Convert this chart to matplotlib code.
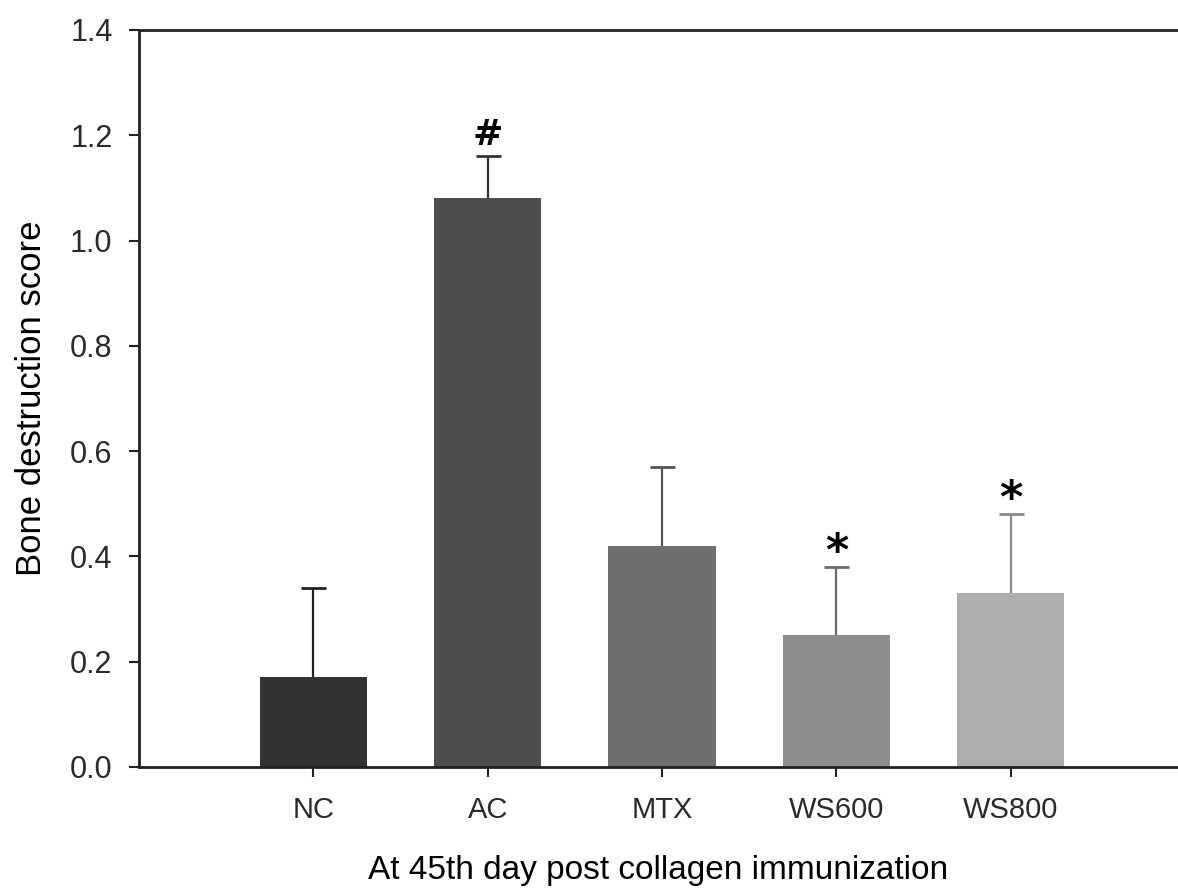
import matplotlib
matplotlib.use("Agg")
import matplotlib.pyplot as plt

categories = ["NC", "AC", "MTX", "WS600", "WS800"]
means = [0.17, 1.08, 0.42, 0.25, 0.33]
upper_err = [0.17, 0.08, 0.15, 0.13, 0.15]
bar_colors = ["#333333", "#4d4d4d", "#6f6f6f", "#8e8e8e", "#adadad"]
err_colors = ["#222222", "#333333", "#555555", "#6a6a6a", "#8a8a8a"]
marks = ["", "#", "", "*", "*"]
yticks = [0.0, 0.2, 0.4, 0.6, 0.8, 1.0, 1.2, 1.4]

plt.rcParams['font.family'] = ['Liberation Sans', 'DejaVu Sans']

fig = plt.figure(figsize=(11.78, 8.88), dpi=100)
ax = fig.add_axes([0.118, 0.1363, 0.882, 0.8300])

x = list(range(len(categories)))
ax.bar(x, means, width=0.615, color=bar_colors, zorder=2)
for xi, m, e, ec in zip(x, means, upper_err, err_colors):
    cont = ax.errorbar(xi, m, yerr=[[0], [e]], fmt='none', ecolor=ec,
                       elinewidth=1.6, capsize=9, capthick=2.0, zorder=3)
    caps = cont.lines[1]
    if len(caps) == 2:
        caps[0].set_visible(False)

for xi, m, e, mk in zip(x, means, upper_err, marks):
    if not mk:
        continue
    if mk == "#":
        ax.annotate(mk, xy=(xi, m + e), xytext=(0, 3), textcoords='offset points',
                    ha='center', va='bottom', fontsize=26, fontweight='bold',
                    family='DejaVu Sans', color='black')
    else:
        ax.annotate(mk, xy=(xi, m + e), xytext=(0, -5), textcoords='offset points',
                    ha='center', va='bottom', fontsize=32, fontweight='bold',
                    family='DejaVu Sans', color='black')

ax.set_xlim(-1, 4.96)
ax.set_ylim(0, 1.4)
ax.set_yticks(yticks)
ax.set_yticklabels([f"{v:.1f}" for v in yticks])
ax.set_xticks(x)
ax.set_xticklabels(categories)

for s in ['left', 'bottom', 'top']:
    ax.spines[s].set_linewidth(2.0)
    ax.spines[s].set_color('#222222')
ax.spines['right'].set_visible(False)

ax.tick_params(axis='y', direction='out', length=7, width=1.5, pad=12,
               labelsize=22, colors='#222222', labelcolor='#2a2a2a')
ax.tick_params(axis='x', direction='out', length=7, width=1.5, pad=14,
               labelsize=21, colors='#222222', labelcolor='#2a2a2a')

ax.set_ylabel("Bone destruction score", fontsize=25, labelpad=16, color='black')
ax.set_xlabel("At 45th day post collagen immunization", fontsize=24,
              labelpad=22, color='black')

fig.savefig("out.png", dpi=100)
